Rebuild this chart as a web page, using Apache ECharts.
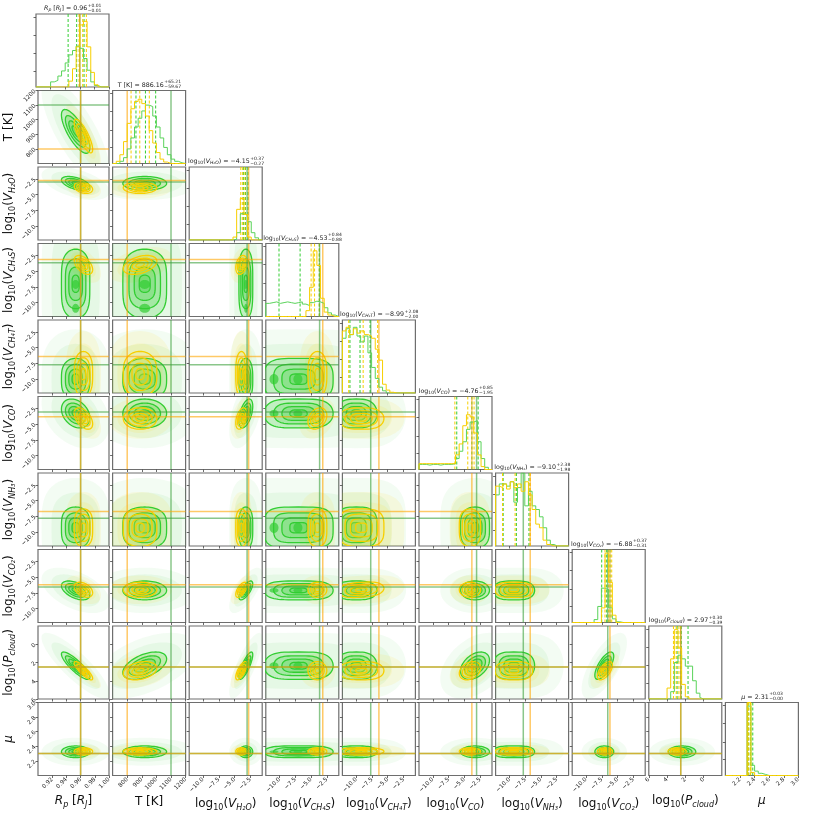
<!DOCTYPE html>
<html>
<head>
<meta charset="utf-8">
<script src="https://cdn.jsdelivr.net/npm/echarts@6/dist/echarts.min.js"></script>
<style>
html,body{margin:0;padding:0;background:#fff;}
#corner{width:814px;height:814px;}
</style>
</head>
<body>
<div id="corner"></div>
<script>
(function(){
	"use strict";

	// ---- data ----
	var paramKeys = ['Rp', 'T', 'H2O', 'CH4S', 'CH4T', 'CO', 'NH3', 'CO2', 'Pcloud', 'mu'];
	var axisMin = [0.90, 700, -12.2, -12.2, -12.2, -12.2, -12.2, -12.2, -2, 2.0];
	var axisMax = [1.00, 1200, -0.6, -0.6, -0.6, -0.6, -0.6, -0.6, 6, 3.0];
	var inverseAxis = [false, false, false, false, false, false, false, false, true, false];
	var tickValues = [
		[0.92, 0.94, 0.96, 0.98, 1.00],
		[800, 900, 1000, 1100, 1200],
		[-10, -7.5, -5, -2.5],
		[-10, -7.5, -5, -2.5],
		[-10, -7.5, -5, -2.5],
		[-10, -7.5, -5, -2.5],
		[-10, -7.5, -5, -2.5],
		[-10, -7.5, -5, -2.5],
		[0, 2, 4, 6],
		[2.2, 2.4, 2.6, 2.8, 3.0]
	];
	var tickDecimals = [2, 0, 1, 1, 1, 1, 1, 1, 0, 1];
	var histTicks = [0.22, 0.46, 0.71, 0.96];

	var truthGreen = [0.96, 1100, -3.0, -3.65, -7.7, -3.05, -7.8, -6.55, 2.5, 2.3];
	var truthOrange = [0.96, 800, -2.75, -3.15, -6.4, -3.8, -6.7, -6.2, 2.5, 2.3];

	// 16/50/84 % dashed lines
	var quantGreen = [
		[0.944, 0.9557, 0.9658], [860, 925, 995], [-3.6, -3.25, -2.85], [-10.1, -6.75, -3.7],
		[-11.0, -9.4, -7.8], [-6.2, -3.8, -2.8], [-11.0, -8.9, -6.9], [-7.51, -6.72, -6.19],
		[2.9, 2.45, 1.7], [2.32, 2.345, 2.375]
	];
	var quantYellow = [
		[0.959, 0.964, 0.969], [826.5, 886.2, 951.4], [-4.0, -3.7, -3.35], [-5.0, -4.45, -3.7],
		[-11.2, -8.9, -6.6], [-6.5, -4.45, -3.45], [-11.1, -9.1, -6.7], [-6.99, -6.46, -5.92],
		[3.3, 3.0, 2.7], [2.31, 2.32, 2.345]
	];

	// histograms, 20 bins from axisMin to axisMax, height as share of panel
	var histGreen = [
		[0, 0, 0, 0, 0.07, 0.09, 0.15, 0.22, 0.33, 0.44, 0.50, 0.56, 0.53, 0.39, 0.23, 0.07, 0.02, 0, 0, 0],
		[0, 0, 0.03, 0.08, 0.2, 0.35, 0.5, 0.62, 0.72, 0.8, 0.78, 0.65, 0.5, 0.35, 0.22, 0.12, 0.06, 0.03, 0.01, 0],
		[0, 0, 0, 0, 0, 0, 0, 0, 0, 0, 0, 0, 0.01, 0.1, 0.36, 0.34, 0.25, 0.1, 0.03, 0],
		[0.18, 0.19, 0.2, 0.18, 0.19, 0.2, 0.19, 0.18, 0.19, 0.2, 0.17, 0.15, 0.19, 0.21, 0.2, 0.18, 0.12, 0.05, 0.02, 0],
		[0.75, 0.88, 0.8, 0.9, 0.78, 0.7, 0.78, 0.55, 0.35, 0.2, 0.08, 0.03, 0, 0, 0, 0, 0, 0, 0, 0],
		[0.07, 0.07, 0.06, 0.07, 0.07, 0.06, 0.07, 0.07, 0.07, 0.08, 0.15, 0.25, 0.38, 0.55, 0.65, 0.67, 0.38, 0.15, 0.03, 0],
		[0.7, 0.85, 0.85, 0.82, 0.88, 0.6, 0.8, 1.0, 0.55, 0.75, 0.55, 0.5, 0.4, 0.25, 0.08, 0.02, 0, 0, 0, 0],
		[0, 0, 0, 0, 0, 0, 0.04, 0.22, 0.47, 0.45, 0.2, 0.05, 0.01, 0, 0, 0, 0, 0, 0, 0],
		[0, 0, 0, 0, 0, 0.02, 0.08, 0.25, 0.45, 0.45, 0.55, 0.6, 0.5, 0.1, 0, 0, 0, 0, 0, 0],
		[0, 0, 0, 0, 0, 0, 0.95, 0.14, 0.06, 0.03, 0.015, 0, 0, 0, 0, 0, 0, 0, 0, 0]
	];
	var histYellow = [
		[0, 0, 0, 0, 0, 0, 0, 0, 0, 0.08, 0.25, 0.55, 0.85, 0.9, 0.55, 0.2, 0.03, 0, 0, 0],
		[0, 0.03, 0.12, 0.3, 0.55, 0.75, 0.85, 0.88, 0.82, 0.65, 0.45, 0.28, 0.15, 0.06, 0.02, 0, 0, 0, 0, 0],
		[0, 0, 0, 0, 0, 0, 0, 0, 0, 0, 0, 0, 0.04, 0.42, 0.57, 0.35, 0.04, 0, 0, 0],
		[0, 0, 0, 0, 0, 0, 0, 0, 0, 0, 0, 0.08, 0.4, 0.9, 0.7, 0.25, 0.06, 0.02, 0, 0],
		[0.85, 0.9, 0.8, 0.88, 0.82, 0.85, 0.8, 0.78, 0.75, 0.6, 0.45, 0.12, 0.04, 0.01, 0, 0, 0, 0, 0, 0],
		[0.08, 0.08, 0.08, 0.08, 0.08, 0.08, 0.08, 0.08, 0.08, 0.08, 0.2, 0.35, 0.6, 0.75, 0.72, 0.5, 0.2, 0.04, 0, 0],
		[0.82, 0.8, 0.85, 0.78, 0.88, 0.8, 0.85, 0.75, 0.88, 0.7, 0.5, 0.3, 0.25, 0.08, 0.02, 0, 0, 0, 0, 0],
		[0, 0, 0, 0, 0, 0, 0, 0, 0.2, 0.95, 0.55, 0.1, 0, 0, 0, 0, 0, 0, 0, 0],
		[0, 0, 0, 0, 0, 0, 0, 0, 0, 0.03, 0.2, 0.7, 0.95, 0.55, 0.15, 0, 0, 0, 0, 0],
		[0, 0, 0, 0, 0, 0, 1.0, 0.04, 0, 0, 0, 0, 0, 0, 0, 0, 0, 0, 0, 0]
	];

	// outer (2 sigma) contour: centre, half size, squareness
	var centerGreen = [0.953, 920, -3.2, -7.0, -10.0, -3.3, -9.3, -7.1, 2.35, 2.325];
	var sizeGreen = [0.02, 150, 1.1, 5.5, 3.3, 2.3, 3.3, 1.5, 1.5, 0.08];
	var shapeGreen = [2, 2, 2, 4, 3, 2, 3.5, 2, 2, 2];
	var centerYellow = [0.964, 888, -3.9, -4.0, -9.2, -4.1, -9.3, -7.0, 2.9, 2.33];
	var sizeYellow = [0.013, 115, 0.9, 1.5, 3.6, 1.7, 3.0, 1.2, 1.0, 0.05];
	var shapeYellow = [2, 2, 2, 2, 3, 2, 3.5, 2, 2, 2];

	// dense green spots along log10(V_CH4S): [param index, value]
	var greenModes = [[3, -10.9], [3, -7.1]];

	// [x param, y param, correlation]
	var rhoGreen = [
		[0, 1, -0.75], [0, 2, -0.5], [0, 5, -0.3], [0, 7, -0.5], [0, 8, 0.85],
		[1, 8, -0.5], [2, 5, 0.5], [2, 7, 0.7], [2, 8, -0.8], [5, 8, -0.4], [7, 8, -0.7]
	];
	var rhoYellow = [
		[0, 1, -0.8], [0, 2, -0.3], [0, 3, -0.5], [0, 5, -0.5], [0, 7, -0.4], [0, 8, 0.85],
		[1, 3, 0.4], [1, 8, -0.3], [2, 3, 0.3], [2, 5, 0.4], [2, 7, 0.6], [2, 8, -0.7],
		[3, 5, 0.3], [4, 7, 0.2], [5, 8, -0.3], [7, 8, -0.6]
	];

	var axisNames = [
		'{i|R}{si|p} [{i|R}{si|J}]',
		'T [K]',
		'log{s|10}({i|V}{si|H₂O})',
		'log{s|10}({i|V}{si|CH₄S})',
		'log{s|10}({i|V}{si|CH₄T})',
		'log{s|10}({i|V}{si|CO})',
		'log{s|10}({i|V}{si|NH₃})',
		'log{s|10}({i|V}{si|CO₂})',
		'log{s|10}({i|P}{si|cloud})',
		'{i|μ}'
	];
	var titleMain = [
		'{i|R}{si|p} [{i|R}{si|J}] = 0.96',
		'T [K] = 886.16',
		'log{s|10}({i|V}{si|H₂O}) = −4.15',
		'log{s|10}({i|V}{si|CH₄S}) = −4.53',
		'log{s|10}({i|V}{si|CH₄T}) = −8.99',
		'log{s|10}({i|V}{si|CO}) = −4.76',
		'log{s|10}({i|V}{si|NH₃}) = −9.10',
		'log{s|10}({i|V}{si|CO₂}) = −6.88',
		'log{s|10}({i|P}{si|cloud}) = 2.97',
		'{i|μ} = 2.31'
	];
	var titleUp = ['+0.01', '+65.21', '+0.37', '+0.84', '+2.08', '+0.85', '+2.38', '+0.37', '+0.30', '+0.03'];
	var titleDown = ['−0.01', '−59.67', '−0.27', '−0.88', '−2.00', '−1.95', '−1.98', '−0.31', '−0.39', '−0.00'];

	// ---- layout and style ----
	var N = paramKeys.length;
	var FONT = 'DejaVu Sans';
	var GREEN = '#32cd32', GOLD = '#f7cf00';
	var PW = 73, PH = 73;
	var gridLeft = function(i){ return 36 + 76.6 * i; };
	var gridTop = function(j){ return 14 + 76.5 * j; };

	var nameRich = {
		s: {fontSize: 8, fontFamily: FONT, verticalAlign: 'bottom', lineHeight: 9},
		i: {fontSize: 12, fontFamily: FONT, fontStyle: 'italic'},
		si: {fontSize: 8, fontFamily: FONT, fontStyle: 'italic', verticalAlign: 'bottom', lineHeight: 9}
	};
	var titleRich = {
		s: {fontSize: 4.5, fontFamily: FONT, fill: '#222', verticalAlign: 'bottom', lineHeight: 5},
		i: {fontSize: 6.3, fontFamily: FONT, fill: '#222', fontStyle: 'italic'},
		si: {fontSize: 4.5, fontFamily: FONT, fill: '#222', fontStyle: 'italic', verticalAlign: 'bottom', lineHeight: 5}
	};

	var ctx = document.createElement('canvas').getContext('2d');
	var richWidth = function(str, size, rich){
		var w = 0, re = /\{(\w+)\|([^}]*)\}/g, last = 0, m;
		var measure = function(t, sz, it){
			ctx.font = (it ? 'italic ' : '') + sz + 'px ' + FONT;
			return ctx.measureText(t).width;
		};
		while ((m = re.exec(str)) !== null) {
			w += measure(str.slice(last, m.index), size, false);
			var st = rich[m[1]];
			w += measure(m[2], st.fontSize, st.fontStyle === 'italic');
			last = re.lastIndex;
		}
		return w + measure(str.slice(last), size, false);
	};

	var rhoOf = function(list, i, j){
		for (var k = 0; k < list.length; k++) {
			if (list[k][0] === i && list[k][1] === j) return list[k][2];
		}
		return 0;
	};

	var shapePoints = function(api, cx, cy, sx, sy, rho, px, py, scale){
		var pts = [], r2 = Math.sqrt(1 - rho * rho);
		for (var k = 0; k < 72; k++) {
			var t = 2 * Math.PI * k / 72, c = Math.cos(t), s = Math.sin(t);
			var u = (c < 0 ? -1 : 1) * Math.pow(Math.abs(c), 2 / px);
			var v = (s < 0 ? -1 : 1) * Math.pow(Math.abs(s), 2 / py);
			pts.push(api.coord([cx + scale * sx * u, cy + scale * sy * (rho * u + r2 * v)]));
		}
		return pts;
	};

	var fmt = function(i){
		return function(v){ return v.toFixed(tickDecimals[i]).replace('-', '−'); };
	};

	var pairRender = function(i, j){
		return function(params, api){
			var kids = [];
			var posts = [
				{c: centerGreen, s: sizeGreen, p: shapeGreen, rho: rhoOf(rhoGreen, i, j),
					cloud: [[2.4, 'rgba(50,205,50,0.06)'], [1.7, 'rgba(50,205,50,0.07)']],
					fill: 'rgba(50,205,50,0.2)', stroke: GREEN},
				{c: centerYellow, s: sizeYellow, p: shapeYellow, rho: rhoOf(rhoYellow, i, j),
					cloud: [[1.9, 'rgba(255,215,0,0.09)'], [1.35, 'rgba(255,215,0,0.1)']],
					fill: 'rgba(255,225,60,0.12)', stroke: GOLD}
			];
			posts.forEach(function(p){
				p.cloud.forEach(function(cl){
					kids.push({type: 'polygon', shape: {points: shapePoints(api, p.c[i], p.c[j], p.s[i], p.s[j], p.rho, p.p[i], p.p[j], cl[0])},
						style: {fill: cl[1]}});
				});
			});
			posts.forEach(function(p, n){
				[1, 0.72, 0.48, 0.25].forEach(function(sc){
					kids.push({type: 'polygon', shape: {points: shapePoints(api, p.c[i], p.c[j], p.s[i], p.s[j], p.rho, p.p[i], p.p[j], sc)},
						style: {fill: p.fill, stroke: p.stroke, lineWidth: 1.3}});
				});
				if (n === 0) {
					greenModes.forEach(function(md){
						if (md[0] !== i && md[0] !== j) return;
						var mx = md[0] === i ? md[1] : centerGreen[i];
						var my = md[0] === j ? md[1] : centerGreen[j];
						kids.push({type: 'polygon', shape: {points: shapePoints(api, mx, my,
							sizeGreen[i] * (md[0] === i ? 0.13 : 0.25), sizeGreen[j] * (md[0] === j ? 0.13 : 0.25), 0, 2, 2, 1)},
							style: {fill: 'rgba(50,205,50,0.7)'}});
					});
				}
			});
			[[truthGreen, 'rgba(60,160,60,0.6)'], [truthOrange, 'rgba(255,165,0,0.6)']].forEach(function(t){
				var a = api.coord([t[0][i], axisMin[j]]), b = api.coord([t[0][i], axisMax[j]]);
				kids.push({type: 'line', shape: {x1: a[0], y1: a[1], x2: b[0], y2: b[1]}, style: {stroke: t[1], lineWidth: 1.5}});
				a = api.coord([axisMin[i], t[0][j]]); b = api.coord([axisMax[i], t[0][j]]);
				kids.push({type: 'line', shape: {x1: a[0], y1: a[1], x2: b[0], y2: b[1]}, style: {stroke: t[1], lineWidth: 1.5}});
			});
			return {type: 'group', children: kids};
		};
	};

	var diagRender = function(i){
		return function(params, api){
			var kids = [];
			var vline = function(x, color, dash, w){
				var a = api.coord([x, 0]), b = api.coord([x, 1]);
				kids.push({type: 'line', shape: {x1: a[0], y1: a[1], x2: b[0], y2: b[1]},
					style: {stroke: color, lineWidth: w, lineDash: dash}});
			};
			quantGreen[i].forEach(function(q){ vline(q, GREEN, [3, 2], 1); });
			quantYellow[i].forEach(function(q){ vline(q, GOLD, [3, 2], 1); });
			vline(truthGreen[i], 'rgba(60,160,60,0.6)', null, 1.5);
			vline(truthOrange[i], 'rgba(255,165,0,0.6)', null, 1.5);
			return {type: 'group', children: kids};
		};
	};

	var histData = function(counts, i){
		var w = (axisMax[i] - axisMin[i]) / counts.length;
		var d = [[axisMin[i], 0]];
		counts.forEach(function(c, k){ d.push([axisMin[i] + k * w, c]); });
		d.push([axisMax[i], counts[counts.length - 1]]);
		d.push([axisMax[i], 0]);
		return d;
	};

	var grids = [], xAxes = [], yAxes = [], series = [], graphics = [];
	var tickStyle = {show: true, length: 2.5, lineStyle: {color: '#444', width: 0.8}};
	var noLine = {show: false, onZero: false};

	for (var j = 0; j < N; j++) {
		for (var i = 0; i <= j; i++) {
			var g = grids.length;
			grids.push({left: gridLeft(i), top: gridTop(j), width: PW, height: PH,
				show: true, borderColor: '#6e6e6e', borderWidth: 1.2, backgroundColor: 'transparent'});
			var bottomRow = (j === N - 1);
			xAxes.push({
				gridIndex: g, type: 'value', min: axisMin[i], max: axisMax[i], inverse: inverseAxis[i],
				position: 'bottom', axisLine: noLine, splitLine: {show: false},
				axisTick: Object.assign({customValues: tickValues[i]}, tickStyle),
				axisLabel: {show: bottomRow, customValues: tickValues[i], rotate: 45, fontSize: 5.8,
					margin: 3, color: '#222', fontFamily: FONT, formatter: fmt(i)},
				name: bottomRow ? axisNames[i] : '', nameLocation: 'middle', nameGap: 17,
				nameTextStyle: {fontSize: 12, fontFamily: FONT, color: '#111', lineHeight: 16, rich: nameRich}
			});
			if (i === j) {
				yAxes.push({
					gridIndex: g, type: 'value', min: 0, max: 1, position: 'left',
					axisLine: noLine, splitLine: {show: false},
					axisTick: Object.assign({customValues: histTicks}, tickStyle),
					axisLabel: {show: false}
				});
				series.push({type: 'line', step: 'end', xAxisIndex: g, yAxisIndex: g, symbol: 'none', clip: true,
					data: histData(histGreen[i], i), lineStyle: {color: '#5ad35a', width: 1}});
				series.push({type: 'line', step: 'end', xAxisIndex: g, yAxisIndex: g, symbol: 'none', clip: true,
					data: histData(histYellow[i], i), lineStyle: {color: GOLD, width: 1}});
				series.push({type: 'custom', xAxisIndex: g, yAxisIndex: g, clip: true, data: [0],
					renderItem: diagRender(i), z: 3});

				var cx = gridLeft(i) + PW / 2, top = gridTop(i);
				var wm = richWidth(titleMain[i], 6.3, titleRich);
				var ws = Math.max(richWidth(titleUp[i], 4.5, titleRich), richWidth(titleDown[i], 4.5, titleRich));
				var xa = cx - (wm + ws) / 2 + wm;
				graphics.push({type: 'text', x: xa, y: top - 1.5, silent: true,
					style: {text: titleMain[i], rich: titleRich, fontSize: 6.3, fontFamily: FONT, fill: '#222',
						lineHeight: 8, align: 'right', verticalAlign: 'bottom', textAlign: 'right', textVerticalAlign: 'bottom'}});
				graphics.push({type: 'text', x: xa + 0.5, y: top - 6, silent: true,
					style: {text: titleUp[i], fontSize: 4.5, fontFamily: FONT, fill: '#222',
						align: 'left', verticalAlign: 'bottom', textAlign: 'left', textVerticalAlign: 'bottom'}});
				graphics.push({type: 'text', x: xa + 0.5, y: top - 1, silent: true,
					style: {text: titleDown[i], fontSize: 4.5, fontFamily: FONT, fill: '#222',
						align: 'left', verticalAlign: 'bottom', textAlign: 'left', textVerticalAlign: 'bottom'}});
			} else {
				var leftCol = (i === 0);
				yAxes.push({
					gridIndex: g, type: 'value', min: axisMin[j], max: axisMax[j], inverse: inverseAxis[j],
					position: 'left', axisLine: noLine, splitLine: {show: false},
					axisTick: Object.assign({customValues: tickValues[j]}, tickStyle),
					axisLabel: {show: leftCol, customValues: tickValues[j], rotate: 45, fontSize: 5.8,
						margin: 3, color: '#222', fontFamily: FONT, formatter: fmt(j)},
					name: leftCol ? axisNames[j] : '', nameLocation: 'middle', nameGap: 21,
					nameTextStyle: {fontSize: 12, fontFamily: FONT, color: '#111', lineHeight: 16, rich: nameRich}
				});
				series.push({type: 'custom', xAxisIndex: g, yAxisIndex: g, clip: true, data: [0],
					renderItem: pairRender(i, j)});
			}
		}
	}

	var chart = echarts.init(document.getElementById('corner'));
	chart.setOption({
		animation: false,
		backgroundColor: '#fff',
		textStyle: {fontFamily: FONT},
		grid: grids,
		xAxis: xAxes,
		yAxis: yAxes,
		series: series,
		graphic: graphics
	});
})();
</script>
</body>
</html>
